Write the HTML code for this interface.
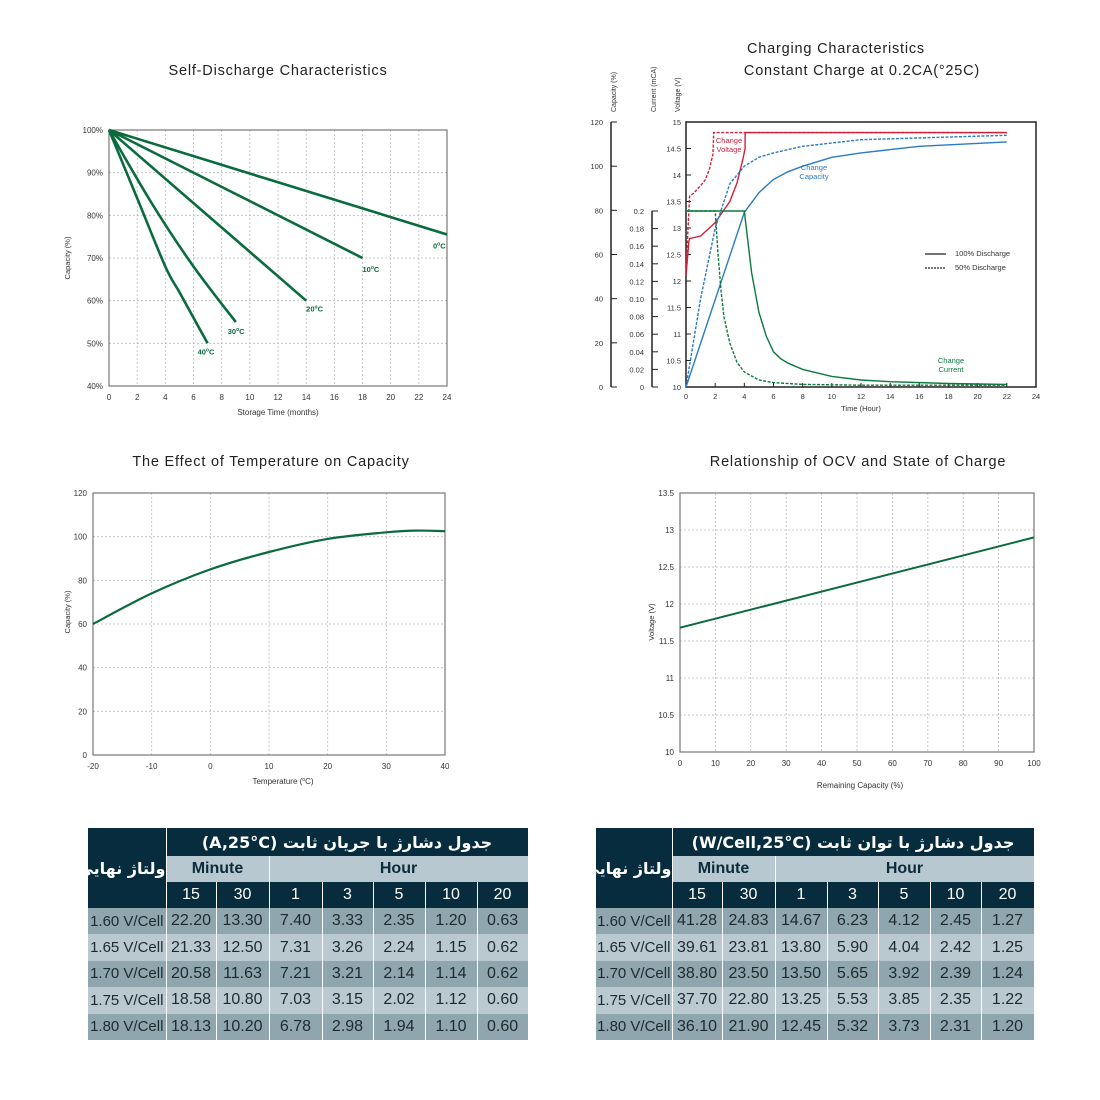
<!DOCTYPE html>
<html><head><meta charset="utf-8">
<style>
body{margin:0;background:#fff;width:1100px;height:1100px;overflow:hidden;position:relative;font-family:"Liberation Sans",sans-serif}
svg{position:absolute;left:0;top:0}
.tbl{position:absolute;border-collapse:collapse;font-family:"Liberation Sans","DejaVu Sans",sans-serif;table-layout:fixed}
.tbl td{padding:0;text-align:center;font-size:15px;color:#1d2a30;border-right:1px solid #fff;overflow:hidden;white-space:nowrap}
.tbl .dk{background:#062c3d;color:#fff}
.tbl .lh{background:#b8c8d0;color:#0b2c3a;font-weight:bold;font-size:16px}
.tbl .r0 td{background:#8fa6ae}
.tbl .r1 td{background:#b9c9cf}
.tbl .ar{font-family:"DejaVu Sans",sans-serif;font-weight:bold;font-size:15px;direction:rtl}
</style></head><body>
<svg id="s" width="1100" height="1100"></svg>

<table class="tbl" id="t1" style="left:88px;top:828px;width:440px"></table>
<table class="tbl" id="t2" style="left:596px;top:828px;width:438px"></table>

<script>
// ---- data ----
const sdTemps=["0","10","20","30","40"];
const sd0x=[0,24], sd0y=[100,75.5];
const sd10x=[0,18], sd10y=[100,70];
const sd20x=[0,14], sd20y=[100,60];
const sd30x=[0,3,6,9], sd30y=[100,83,68,55];
const sd40x=[0,2,4,5,6,7], sd40y=[100,84,68,62,56,50];
const sdXTicks=[0,2,4,6,8,10,12,14,16,18,20,22,24];
const sdYTicks=[40,50,60,70,80,90,100];

const tcX=[-20,-10,0,10,20,30,35,40];
const tcY=[60,74,85,93,99,102,102.8,102.5];
const tcXTicks=[-20,-10,0,10,20,30,40];
const tcYTicks=[0,20,40,60,80,100,120];

const ocvX=[0,100];
const ocvY=[11.68,12.9];
const ocvXTicks=[0,10,20,30,40,50,60,70,80,90,100];
const ocvYTicks=[10,10.5,11,11.5,12,12.5,13,13.5];

const chX_ticks=[0,2,4,6,8,10,12,14,16,18,20,22,24];
const chVTicks=[10,10.5,11,11.5,12,12.5,13,13.5,14,14.5,15];
const chCapTicks=[0,20,40,60,80,100,120];
const chCurTicks=[0,0.02,0.04,0.06,0.08,0.10,0.12,0.14,0.16,0.18,0.2];
const vSolidT=[0,0.2,0.25,1,2,3,3.5,3.9,4.05,4.05,22];
const vSolidV=[12.1,12.75,12.8,12.85,13.1,13.5,13.85,14.3,14.5,14.8,14.8];
const vDashT=[0,0.25,0.5,1,1.3,1.6,1.85,1.9,22];
const vDashV=[12.2,13.6,13.65,13.8,13.9,14.1,14.4,14.8,14.8];
const capSolidT=[0,4,5,6,7,8,10,12,16,22];
const capSolidC=[0,79,88,94,97.5,100,104,106,109,111];
const capDashT=[0,1,2,3,4,5,6,8,12,22];
const capDashC=[0,40,72,92,100,104,106,109,112,114];
const curSolidT=[0,4,4.5,5,5.5,6,6.5,7,8,10,12,14,18,22];
const curSolidI=[0.2,0.2,0.13,0.085,0.058,0.04,0.032,0.027,0.02,0.012,0.008,0.006,0.004,0.003];
const curDashT=[0,2,2.2,2.4,2.6,3,3.5,4,5,6,8,12,22];
const curDashI=[0.2,0.2,0.15,0.11,0.08,0.05,0.028,0.017,0.008,0.005,0.003,0.002,0.002];

const t1Title="جدول دشارژ با جریان ثابت (A,25°C)";
const t2Title="جدول دشارژ با توان ثابت  (W/Cell,25°C)";
const rowLabels=["1.60 V/Cell","1.65 V/Cell","1.70 V/Cell","1.75 V/Cell","1.80 V/Cell"];
const colHeads=["15","30","1","3","5","10","20"];
const t1Data=[["22.20","13.30","7.40","3.33","2.35","1.20","0.63"],["21.33","12.50","7.31","3.26","2.24","1.15","0.62"],["20.58","11.63","7.21","3.21","2.14","1.14","0.62"],["18.58","10.80","7.03","3.15","2.02","1.12","0.60"],["18.13","10.20","6.78","2.98","1.94","1.10","0.60"]];
const t2Data=[["41.28","24.83","14.67","6.23","4.12","2.45","1.27"],["39.61","23.81","13.80","5.90","4.04","2.42","1.25"],["38.80","23.50","13.50","5.65","3.92","2.39","1.24"],["37.70","22.80","13.25","5.53","3.85","2.35","1.22"],["36.10","21.90","12.45","5.32","3.73","2.31","1.20"]];

// ---- helpers ----
const S=document.getElementById('s');const NS="http://www.w3.org/2000/svg";
function el(tag,attrs,parent){const e=document.createElementNS(NS,tag);for(const k in attrs)e.setAttribute(k,attrs[k]);(parent||S).appendChild(e);return e;}
function txt(x,y,s,attrs){const e=el('text',Object.assign({x:x,y:y,'font-family':'Liberation Sans, sans-serif','font-size':8,fill:'#333'},attrs||{}));e.textContent=s;return e;}
function lin(d0,d1,r0,r1){return v=>r0+(v-d0)/(d1-d0)*(r1-r0);}
function path(xs,ys,sx,sy){return xs.map((x,i)=>(i?'L':'M')+sx(x).toFixed(1)+' '+sy(ys[i]).toFixed(1)).join(' ');}
function smooth(xs,ys,sx,sy){const P=xs.map((x,i)=>[sx(x),sy(ys[i])]);let d='M'+P[0][0]+' '+P[0][1];for(let i=0;i<P.length-1;i++){const p0=P[i-1]||P[i],p1=P[i],p2=P[i+1],p3=P[i+2]||p2;const c1=[p1[0]+(p2[0]-p0[0])/6,p1[1]+(p2[1]-p0[1])/6],c2=[p2[0]-(p3[0]-p1[0])/6,p2[1]-(p3[1]-p1[1])/6];d+=` C${c1[0].toFixed(1)} ${c1[1].toFixed(1)} ${c2[0].toFixed(1)} ${c2[1].toFixed(1)} ${p2[0].toFixed(1)} ${p2[1].toFixed(1)}`;}return d;}
function title(x,y,s,name){const t=txt(x,y,s,{'font-size':14.5,'text-anchor':'middle',fill:'#222','letter-spacing':'0.8'});}
function gridChart(o){
  const g=el('g',{});
  o.xt.forEach(v=>{const x=o.sx(v);el('line',{x1:x,x2:x,y1:o.y0,y2:o.y1,stroke:'#bbb','stroke-dasharray':'2,2','stroke-width':0.8},g);txt(x,o.y1+14,String(v),{'text-anchor':'middle'},g);});
  o.yt.forEach(v=>{const y=o.sy(v);el('line',{x1:o.x0,x2:o.x1,y1:y,y2:y,stroke:'#bbb','stroke-dasharray':'2,2','stroke-width':0.8},g);txt(o.x0-6,y+3,o.yf?o.yf(v):String(v),{'text-anchor':'end'},g);});
  el('rect',{x:o.x0,y:o.y0,width:o.x1-o.x0,height:o.y1-o.y0,fill:'none',stroke:'#777','stroke-width':1.2},g);
  return g;
}
const GREEN='#0a6b3c';

// ---- chart 1 self-discharge ----
title(278,75,"Self-Discharge Characteristics","self-discharge-title");
{const x0=109,x1=447,y0=130,y1=386,sx=lin(0,24,x0,x1),sy=lin(40,100,y1,y0);
 const g=gridChart({name:'self-discharge-chart',x0,x1,y0,y1,sx,sy,xt:sdXTicks,yt:sdYTicks,yf:v=>v+'%'});
 const series=[[sd0x,sd0y],[sd10x,sd10y],[sd20x,sd20y],[sd30x,sd30y],[sd40x,sd40y]];
 const lab=[[-14,14],[0,14],[0,11],[-8,12],[-10,11]];
 series.forEach((s,i)=>{const p=el('path',{d:smooth(s[0],s[1],sx,sy),fill:'none',stroke:GREEN,'stroke-width':2.6},g);
  const lx=sx(s[0][s[0].length-1])+lab[i][0],ly=sy(s[1][s[1].length-1])+lab[i][1];
  const t=txt(lx,ly,sdTemps[i],{'font-size':7.5,'font-weight':'bold',fill:GREEN},g);const ts=el('tspan',{'font-size':5,dy:-3},t);ts.textContent='o';const tc=el('tspan',{dy:3},t);tc.textContent='C';});
 txt(278,415,"Storage Time (months)",{'text-anchor':'middle'});
 txt(70,258,"Capacity (%)",{'text-anchor':'middle',transform:'rotate(-90 70 258)','font-size':7.5});
}

// ---- chart 3 temperature ----
title(271,466,"The Effect of Temperature on Capacity","temperature-title");
{const x0=93,x1=445,y0=493,y1=755,sx=lin(-20,40,x0,x1),sy=lin(0,120,y1,y0);
 const g=gridChart({name:'temperature-chart',x0,x1,y0,y1,sx,sy,xt:tcXTicks,yt:tcYTicks});
 const p=el('path',{d:smooth(tcX,tcY,sx,sy),fill:'none',stroke:GREEN,'stroke-width':2.2},g);
 const t=txt(283,784,"Temperature (",{'text-anchor':'middle'});const a=el('tspan',{'font-size':5,dy:-3},t);a.textContent='o';const b=el('tspan',{dy:3},t);b.textContent='C)';
 txt(70,612,"Capacity (%)",{'text-anchor':'middle',transform:'rotate(-90 70 612)','font-size':7.5});
}

// ---- chart 4 OCV ----
title(858,466,"Relationship of OCV and State of Charge","ocv-title");
{const x0=680,x1=1034,y0=493,y1=752,sx=lin(0,100,x0,x1),sy=lin(10,13.5,y1,y0);
 const g=gridChart({name:'ocv-chart',x0,x1,y0,y1,sx,sy,xt:ocvXTicks,yt:ocvYTicks});
 const p=el('path',{d:path(ocvX,ocvY,sx,sy),fill:'none',stroke:GREEN,'stroke-width':2},g);
 txt(860,788,"Remaining Capacity (%)",{'text-anchor':'middle'});
 txt(654,622,"Voltage (V)",{'text-anchor':'middle',transform:'rotate(-90 654 622)','font-size':7.5});
}

// ---- chart 2 charging ----
title(836,53,"Charging Characteristics","charging-title");
title(862,75,"Constant Charge at 0.2CA(°25C)","charging-subtitle");
{const x0=686,x1=1036,y0=122,y1=387,sx=lin(0,24,x0,x1),sv=lin(10,15,y1,y0),sc=lin(0,120,y1,y0),si=lin(0,0.2,y1,211);
 const g=el('g',{});
 el('rect',{x:x0,y:y0,width:x1-x0,height:y1-y0,fill:'none',stroke:'#222','stroke-width':1.5},g);
 chX_ticks.forEach(v=>{const x=sx(v);el('line',{x1:x,x2:x,y1:y1,y2:y1-4,stroke:'#222'},g);txt(x,y1+12,String(v),{'text-anchor':'middle','font-size':7.5},g);});
 chVTicks.forEach(v=>{const y=sv(v);el('line',{x1:x0,x2:x0+5,y1:y,y2:y,stroke:'#222'},g);txt(x0-5,y+3,String(v),{'text-anchor':'end','font-size':7.5},g);});
 el('line',{x1:611,x2:611,y1:y0,y2:y1,stroke:'#222','stroke-width':1.5},g);
 chCapTicks.forEach(v=>{const y=sc(v);el('line',{x1:611,x2:617,y1:y,y2:y,stroke:'#222'},g);txt(603,y+3,String(v),{'text-anchor':'end','font-size':7.5},g);});
 el('line',{x1:652,x2:652,y1:211,y2:y1,stroke:'#222','stroke-width':1.5},g);
 chCurTicks.forEach(v=>{const y=si(v);el('line',{x1:652,x2:658,y1:y,y2:y,stroke:'#222'},g);txt(644,y+3,v===0?'0':v===0.2?'0.2':v.toFixed(2),{'text-anchor':'end','font-size':7.5},g);});
 [['Capacity (%)',616],['Current (mCA)',656],['Voltage (V)',680]].forEach(a=>txt(a[1],112,a[0],{'text-anchor':'start',transform:`rotate(-90 ${a[1]} 112)`,'font-size':7}));
 const RED='#d0213b',BLUE='#2a7bc4',DG='#0b7a3c';
 const S2=[[vSolidT,vSolidV,sv,RED,0,'voltage-100'],[vDashT,vDashV,sv,RED,1,'voltage-50'],[capSolidT,capSolidC,sc,BLUE,0,'capacity-100'],[capDashT,capDashC,sc,BLUE,1,'capacity-50'],[curSolidT,curSolidI,si,DG,0,'current-100'],[curDashT,curDashI,si,DG,1,'current-50']];
 S2.forEach(s=>{const p=el('path',{d:path(s[0],s[1],sx,s[2]),fill:'none',stroke:s[3],'stroke-width':1.4,'stroke-dasharray':s[4]?'3,1.5':'none'},g);});
 txt(729,143,"Change",{'text-anchor':'middle',fill:RED,'font-size':7.5});txt(729,152,"Voltage",{'text-anchor':'middle',fill:RED,'font-size':7.5});
 txt(814,170,"Change",{'text-anchor':'middle',fill:BLUE,'font-size':7.5});txt(814,179,"Capacity",{'text-anchor':'middle',fill:BLUE,'font-size':7.5});
 txt(951,363,"Change",{'text-anchor':'middle',fill:DG,'font-size':7.5});txt(951,372,"Current",{'text-anchor':'middle',fill:DG,'font-size':7.5});
 const lg=el('g',{},g);
 el('line',{x1:925,x2:946,y1:254,y2:254,stroke:'#222','stroke-width':1.3},lg);txt(955,256,"100% Discharge",{'font-size':7.5},lg);
 el('line',{x1:925,x2:946,y1:268,y2:268,stroke:'#222','stroke-width':1.3,'stroke-dasharray':'2,1'},lg);txt(955,270,"50% Discharge",{'font-size':7.5},lg);
 txt(861,411,"Time (Hour)",{'text-anchor':'middle','font-size':7.5});
}

// ---- tables ----
function buildTable(id,ttl,data,firstW,colW){
  const t=document.getElementById(id);
  let cg='<colgroup><col style="width:'+firstW+'px">'+colW.map(w=>'<col style="width:'+w+'px">').join('')+'</colgroup>';
  let h=cg+'<tr style="height:28px"><td class="dk ar" rowspan="3" style="font-size:16px">ولتاژ نهایی</td><td class="dk ar" colspan="7" style="font-size:16px">'+ttl+'</td></tr>';
  h+='<tr style="height:26px"><td class="lh" colspan="2">Minute</td><td class="lh" colspan="5">Hour</td></tr>';
  h+='<tr style="height:26px">'+colHeads.map(c=>'<td class="dk" style="font-size:16px">'+c+'</td>').join('')+'</tr>';
  data.forEach((r,i)=>{h+='<tr class="r'+(i%2)+'" style="height:26.4px"><td style="font-size:15px">'+rowLabels[i]+'</td>'+r.map(v=>'<td style="font-size:16px">'+v+'</td>').join('')+'</tr>';});
  t.innerHTML=h;
}
buildTable('t1',t1Title,t1Data,78,[50,53,53,51,52,52,51]);
buildTable('t2',t2Title,t2Data,76,[50,53,52,51,52,51,53]);
</script>
</body></html>
